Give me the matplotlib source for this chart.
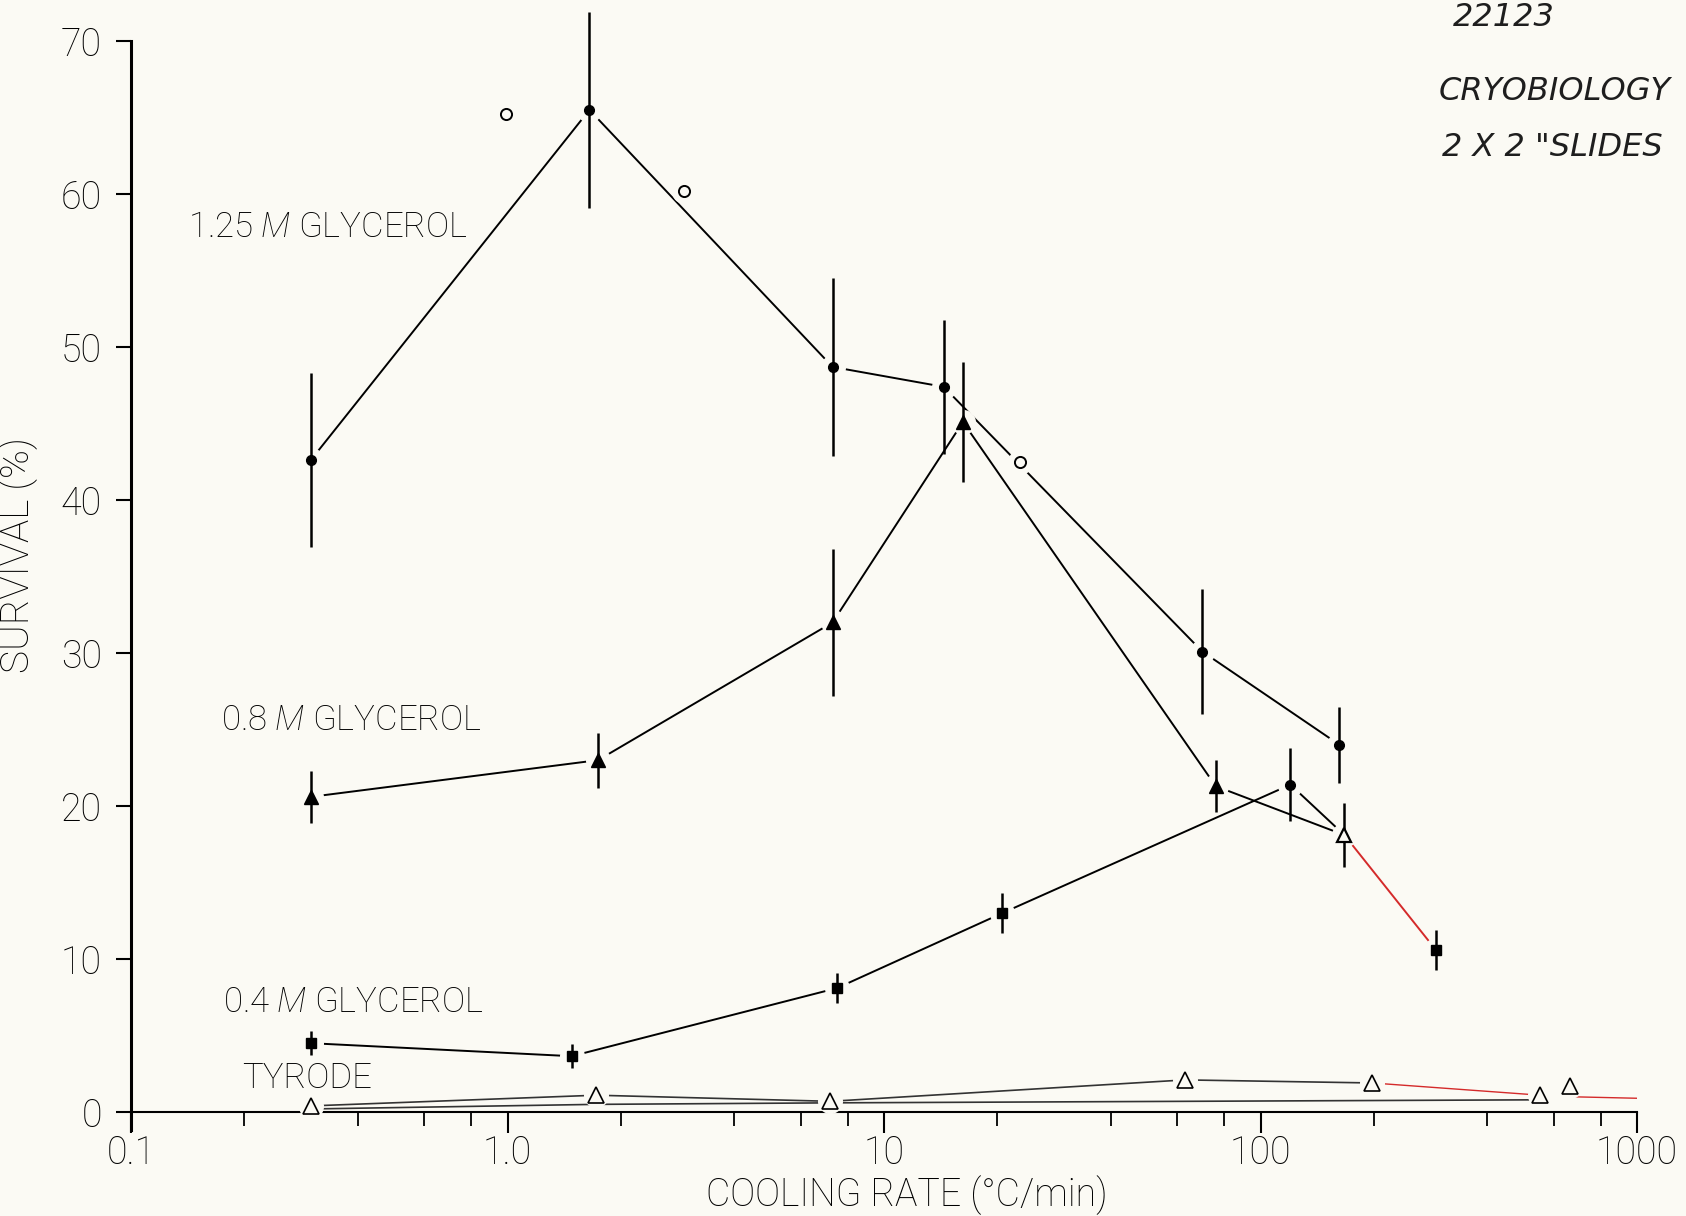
import matplotlib
matplotlib.use("Agg")
import matplotlib.pyplot as plt
from matplotlib.ticker import FixedLocator, NullFormatter

# 1.25 M glycerol (filled circles) + loose open circles
g125_x = [0.30, 1.65, 7.3, 14.4, 70, 162]
g125_y = [42.6, 65.5, 48.7, 47.4, 30.1, 24.0]
g125_err = [5.7, 6.4, 5.8, 4.4, 4.1, 2.5]
g125_open_x = [0.99, 2.95, 23]
g125_open_y = [65.2, 60.2, 42.5]

# 0.8 M glycerol (triangles)
g08_x = [0.30, 1.74, 7.3, 16.2, 76, 167]
g08_y = [20.6, 23.0, 32.0, 45.1, 21.3, 18.1]
g08_err = [1.7, 1.8, 4.8, 3.9, 1.7, 2.1]

# 0.4 M glycerol (squares), joins the 0.8 M end point
g04_x = [0.30, 1.48, 7.5, 20.6, 120, 167]
g04_y = [4.5, 3.65, 8.1, 13.0, 21.4, 18.1]
g04_err = [0.8, 0.8, 1.0, 1.3, 2.4, 0]
g04_end_x = [167, 292]          # red hand-drawn piece
g04_end_y = [18.1, 10.6]
g04_end_err = [0, 1.3]

# tyrode (open triangles)
tyr_x = [0.30, 1.72, 7.2, 63, 198, 553, 665]
tyr_y = [0.4, 1.1, 0.7, 2.1, 1.9, 1.1, 1.7]
tyr_base_x = [0.30, 1.7, 7.2, 560]
tyr_base_y = [0.2, 0.5, 0.6, 0.8]
tyr_tail_x = [665, 1000]
tyr_tail_y = [1.0, 0.9]

xticks = [0.1, 1, 10, 100, 1000]
xlabels = ["0.1", "1.0", "10", "100", "1000"]
yticks = [0, 10, 20, 30, 40, 50, 60, 70]

bg = "#fbfaf4"
ink = "#000000"
red = "#d42a2a"

plt.rcParams["font.family"] = ["Roboto", "DejaVu Sans"]
plt.rcParams["font.weight"] = "light"
plt.rcParams["axes.labelweight"] = "light"
plt.rcParams["mathtext.fontset"] = "custom"
plt.rcParams["mathtext.it"] = "Roboto:italic:light"
plt.rcParams["mathtext.rm"] = "Roboto:light"

fig = plt.figure(figsize=(16.86, 12.16), dpi=100, facecolor=bg)
ax = fig.add_axes([0.0777, 0.0704, 0.8933, 0.9273])
ax.set_facecolor(bg)
ax.set_xscale("log")
ax.set_xlim(0.1, 1000)
ax.set_ylim(-1.2, 72.5)

lw = 1.4
# connecting lines
ax.plot(g125_x, g125_y, color=ink, lw=lw, zorder=2)
ax.plot(g08_x, g08_y, color=ink, lw=lw, zorder=2)
ax.plot(g04_x, g04_y, color=ink, lw=lw, zorder=2)
ax.plot(g04_end_x, g04_end_y, color=red, lw=lw, zorder=2)
ax.plot(tyr_x[:5], tyr_y[:5], color="#333333", lw=1.2, zorder=2)
ax.plot(tyr_x[4:6], tyr_y[4:6], color=red, lw=1.0, zorder=2)
ax.plot(tyr_base_x, tyr_base_y, color="#333333", lw=1.2, zorder=2)
ax.plot(tyr_tail_x, tyr_tail_y, color=red, lw=1.0, zorder=2)

# paper-coloured halos -> small gaps where lines meet markers
for xs, ys in [(g125_x, g125_y), (g08_x, g08_y), (g04_x[:5], g04_y[:5]),
               (g125_open_x, g125_open_y), (tyr_x, tyr_y), (g04_end_x[1:], g04_end_y[1:])]:
    ax.plot(xs, ys, ls="none", marker="o", ms=17, mfc=bg, mec=bg, zorder=3)

# error bars
ax.errorbar(g125_x, g125_y, yerr=g125_err, fmt="none", ecolor=ink, elinewidth=1.8, capsize=0, zorder=4, clip_on=False)
ax.errorbar(g08_x, g08_y, yerr=g08_err, fmt="none", ecolor=ink, elinewidth=1.8, capsize=0, zorder=4)
ax.errorbar(g04_x, g04_y, yerr=g04_err, fmt="none", ecolor=ink, elinewidth=1.8, capsize=0, zorder=4)
ax.errorbar(g04_end_x, g04_end_y, yerr=g04_end_err, fmt="none", ecolor=ink, elinewidth=1.8, capsize=0, zorder=4)

# markers
ax.plot(g125_x, g125_y, ls="none", marker="o", ms=7, mfc=ink, mec=ink, zorder=5)
ax.plot(g125_open_x, g125_open_y, ls="none", marker="o", ms=8, mfc=bg, mec=ink, mew=1.4, zorder=5)
ax.plot(g08_x[:5], g08_y[:5], ls="none", marker="^", ms=10, mfc=ink, mec=ink, zorder=5)
ax.plot(g08_x[5:], g08_y[5:], ls="none", marker="^", ms=10, mfc=bg, mec=ink, mew=1.6, zorder=5)
ax.plot(g04_x[:4], g04_y[:4], ls="none", marker="s", ms=6.5, mfc=ink, mec=ink, zorder=5)
ax.plot(g04_x[4:5], g04_y[4:5], ls="none", marker="o", ms=7, mfc=ink, mec=ink, zorder=5)
ax.plot(g04_end_x[1:], g04_end_y[1:], ls="none", marker="s", ms=7, mfc=ink, mec=ink, zorder=5)
ax.plot(tyr_x, tyr_y, ls="none", marker="^", ms=12, mfc=bg, mec=ink, mew=1.2, zorder=5)

# axes styling
for s in ["top", "right"]:
    ax.spines[s].set_visible(False)
ax.spines["bottom"].set_position(("data", 0))
ax.spines["bottom"].set_linewidth(1.5)
ax.spines["left"].set_linewidth(2.2)
ax.spines["left"].set_bounds(-1.2, 70)
ax.spines["bottom"].set_color(ink)
ax.spines["left"].set_color(ink)

ax.xaxis.set_major_locator(FixedLocator(xticks))
ax.set_xticklabels(xlabels)
minors = [m * d for d in [0.1, 1, 10, 100] for m in (2, 4, 6, 8)]
ax.xaxis.set_minor_locator(FixedLocator(minors))
ax.xaxis.set_minor_formatter(NullFormatter())
ax.set_yticks(yticks)
ax.tick_params(axis="x", which="major", direction="out", length=15, width=1.5, pad=1,
               labelsize=27, colors=ink)
ax.tick_params(axis="x", which="minor", direction="out", length=10, width=1.3)
ax.tick_params(axis="y", which="major", direction="out", length=11, width=1.5, pad=10,
               labelsize=27, colors=ink)
ax.tick_params(axis="y", which="minor", left=False)

ax.set_xlabel("COOLING RATE (°C/min)", fontsize=27, color=ink, labelpad=0)
ax.xaxis.set_label_coords(0.515, -0.040)
ax.set_ylabel("SURVIVAL (%)", fontsize=28, color=ink)
ax.yaxis.set_label_coords(-0.062, 0.51)

# series labels
ax.text(0.142, 57.8, r"1.25 $\mathit{M}$ GLYCEROL", fontsize=25, va="center", color=ink)
ax.text(0.173, 25.6, r"0.8 $\mathit{M}$ GLYCEROL", fontsize=25, va="center", color=ink)
ax.text(0.175, 7.2, r"0.4 $\mathit{M}$ GLYCEROL", fontsize=25, va="center", color=ink)
ax.text(0.197, 2.2, "TYRODE", fontsize=25, va="center", color=ink)

# handwritten notes, top right
hand = dict(fontsize=23, style="italic", color="#1e1e1e", family="DejaVu Sans", weight="normal")
fig.text(0.862, 0.998, "22123", va="top", **hand)
fig.text(0.853, 0.925, "CRYOBIOLOGY", va="center", **hand)
fig.text(0.855, 0.879, "2 X 2 \"SLIDES", va="center", **hand)

fig.savefig("out.png", dpi=100, facecolor=bg)
